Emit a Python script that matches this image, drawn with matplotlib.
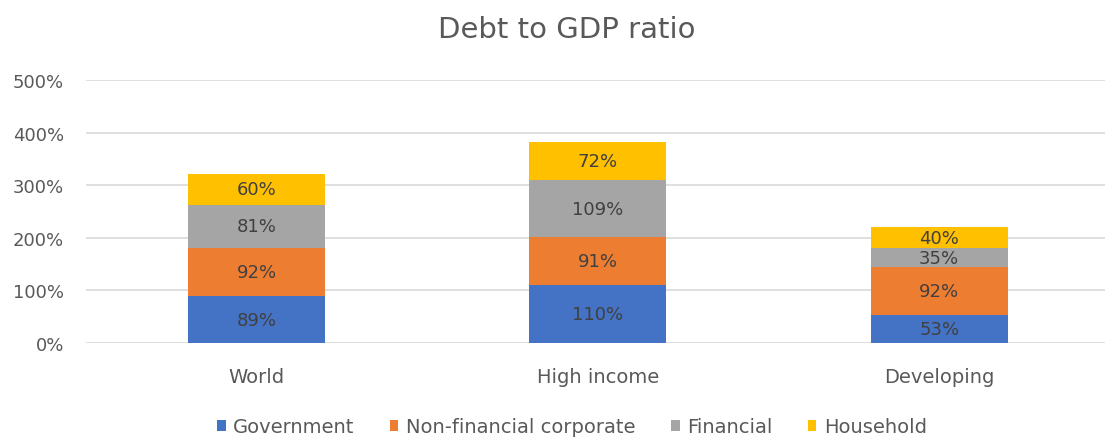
import matplotlib
matplotlib.use("Agg")
import matplotlib.pyplot as plt
import numpy as np

categories = ["World", "High income", "Developing"]
series_names = ["Government", "Non-financial corporate", "Financial", "Household"]
government = [89, 110, 53]
nonfin_corp = [92, 91, 92]
financial = [81, 109, 35]
household = [60, 72, 40]
yticks = [0, 100, 200, 300, 400, 500]

colors = ["#4472C4", "#ED7D31", "#A5A5A5", "#FFC000"]
plt.rcParams['font.family'] = ['DejaVu Sans']

W, H = 1105, 439
fig = plt.figure(figsize=(W/100, H/100), dpi=100)
left, right = 86, 1105
bottom, top = 344, 81
ax = fig.add_axes([left/W, (H-bottom)/H, (right-left)/W, (bottom-top)/H])

cat_px = 341.3
x = np.arange(len(categories))
ax.set_xlim(-0.5, -0.5 + (right-left)/cat_px)
ax.set_ylim(0, 500)

data = [government, nonfin_corp, financial, household]
base = np.zeros(len(categories))
bw = 137/cat_px
for vals, c, name in zip(data, colors, series_names):
    v = np.array(vals, dtype=float)
    ax.bar(x, v, bw, bottom=base, color=c, label=name, zorder=3, edgecolor='none')
    for xi, b, vi in zip(x, base, v):
        ax.text(xi, b + vi/2, f"{int(vi)}%", ha='center', va='center',
                fontsize=13, color='#404040', zorder=4)
    base = base + v

ax.set_yticks(yticks)
ax.set_yticklabels([f"{t}%" for t in yticks], fontsize=13, color='#595959')
ax.set_xticks(x)
ax.set_xticklabels(categories, fontsize=14, color='#595959')
ax.tick_params(axis='both', length=0)
ax.tick_params(axis='y', pad=16)
ax.tick_params(axis='x', pad=17)
ax.grid(axis='y', color='#D9D9D9', linewidth=1.2, zorder=0)
for s in ax.spines.values():
    s.set_visible(False)

fig.text(567/W, 1 - 38.5/H, "Debt to GDP ratio", ha='center', va='baseline',
         fontsize=21, color='#595959')

handles, labels = ax.get_legend_handles_labels()
fig.legend(handles, labels, loc='center', bbox_to_anchor=(572/W, 1 - 428/H),
           ncol=4, frameon=False, fontsize=14, labelcolor='#595959',
           handlelength=0.45, handleheight=0.45, handletextpad=0.4, columnspacing=1.8)

fig.savefig("out.png", dpi=100)
